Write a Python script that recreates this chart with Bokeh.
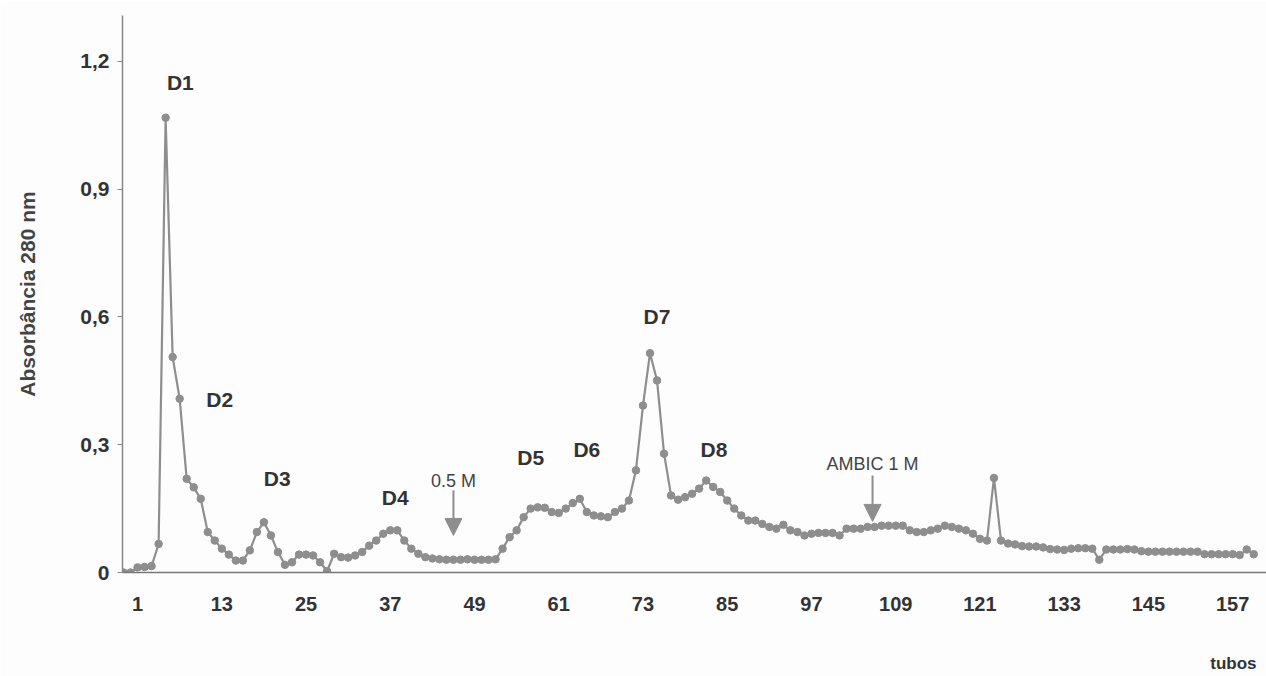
from bokeh.plotting import figure
from bokeh.models import (Range1d, FixedTicker, Title, Arrow, NormalHead, ColumnDataSource)
from bokeh.core.properties import value
from bokeh.embed import file_html
from bokeh.resources import INLINE

# ---- data ----
absorbance = [
    0.000, 0.000, 0.012, 0.013, 0.015, 0.067, 1.068, 0.506, 0.408, 0.220,
    0.200, 0.173, 0.095, 0.075, 0.056, 0.042, 0.028, 0.028, 0.052, 0.095,
    0.118, 0.087, 0.048, 0.018, 0.024, 0.042, 0.042, 0.040, 0.024, 0.003,
    0.044, 0.036, 0.035, 0.040, 0.048, 0.063, 0.075, 0.091, 0.099, 0.099,
    0.075, 0.056, 0.044, 0.036, 0.033, 0.031, 0.030, 0.030, 0.030, 0.031,
    0.030, 0.030, 0.030, 0.031, 0.056, 0.083, 0.099, 0.130, 0.150, 0.153,
    0.152, 0.142, 0.140, 0.150, 0.163, 0.173, 0.142, 0.134, 0.132, 0.130,
    0.142, 0.150, 0.169, 0.240, 0.392, 0.515, 0.451, 0.279, 0.181, 0.171,
    0.177, 0.185, 0.197, 0.216, 0.201, 0.189, 0.169, 0.150, 0.134, 0.122,
    0.122, 0.114, 0.107, 0.103, 0.112, 0.099, 0.095, 0.087, 0.091, 0.093,
    0.093, 0.093, 0.087, 0.103, 0.103, 0.103, 0.107, 0.107, 0.110, 0.110,
    0.110, 0.110, 0.099, 0.095, 0.095, 0.099, 0.103, 0.110, 0.107, 0.103,
    0.099, 0.091, 0.079, 0.075, 0.222, 0.075, 0.068, 0.066, 0.062, 0.061,
    0.061, 0.059, 0.055, 0.054, 0.053, 0.056, 0.057, 0.057, 0.056, 0.030,
    0.054, 0.054, 0.054, 0.055, 0.054, 0.050, 0.049, 0.049, 0.049, 0.049,
    0.049, 0.049, 0.049, 0.049, 0.043, 0.043, 0.043, 0.043, 0.043, 0.041,
    0.054, 0.043,
]
points = list(range(1, len(absorbance) + 1))

x_tick_labels = [1, 13, 25, 37, 49, 61, 73, 85, 97, 109, 121, 133, 145, 157]
y_ticks = [0, 0.3, 0.6, 0.9, 1.2]
y_tick_labels = ["0", "0,3", "0,6", "0,9", "1,2"]

peak_names = ["D1", "D2", "D3", "D4", "D5", "D6", "D7", "D8"]
peak_x = [9.1, 14.7, 22.9, 39.7, 59.0, 67.0, 77.0, 85.1]
peak_y = [1.151, 0.406, 0.221, 0.176, 0.270, 0.289, 0.601, 0.289]

salt_names = ["0.5 M", "AMBIC 1 M"]
salt_x = [48.0, 107.7]
salt_text_y = [0.216, 0.254]
arrow_top = [0.193, 0.228]
arrow_bottom = [0.087, 0.120]

GRAY = "#8e8e8e"
TXT = "#333333"
FONT = "Liberation Sans"
BG = "#fdfdfd"

p = figure(width=1266, height=676, output_backend="svg", toolbar_location=None,
           x_range=Range1d(0.857, 0.857 + 1144 / 7.02),
           y_range=Range1d(0, 1.308),
           min_border_left=122, min_border_right=0, min_border_top=15,
           min_border_bottom=104)
p.outline_line_color = None
p.xgrid.grid_line_color = None
p.ygrid.grid_line_color = None
p.background_fill_color = BG
p.border_fill_color = BG

src = ColumnDataSource(dict(x=points, y=absorbance))
p.line("x", "y", source=src, line_color=GRAY, line_width=2.2)
p.scatter("x", "y", source=src, size=7.5, fill_color=GRAY, line_color=GRAY)

# axes
xa = p.xaxis[0]
xa.ticker = FixedTicker(ticks=[t + 2 for t in x_tick_labels])
xa.major_label_overrides = {t + 2: str(t) for t in x_tick_labels}
xa.major_tick_out = 0
xa.major_tick_in = 0
xa.minor_tick_out = 0
xa.minor_tick_in = 0
xa.axis_line_color = "#777777"
xa.axis_line_width = 1.5
xa.major_label_standoff = 24
xa.major_label_text_font = FONT
xa.major_label_text_font_style = "bold"
xa.major_label_text_font_size = "20px"
xa.major_label_text_color = TXT
# blank spacer label so that the "tubos" title sits lower
xa.axis_label = "\u00a0"
xa.axis_label_standoff = 13
xa.axis_label_text_font = FONT
xa.axis_label_text_font_size = "17px"
xa.axis_label_text_alpha = 0

ya = p.yaxis[0]
ya.ticker = FixedTicker(ticks=y_ticks)
ya.major_label_overrides = {t: l for t, l in zip(y_ticks, y_tick_labels)}
ya.major_tick_out = 5
ya.major_tick_in = 0
ya.minor_tick_out = 0
ya.minor_tick_in = 0
ya.major_tick_line_color = "#888888"
ya.axis_line_color = "#888888"
ya.axis_line_width = 1.5
ya.major_label_standoff = 8
ya.major_label_text_font = FONT
ya.major_label_text_font_style = "bold"
ya.major_label_text_font_size = "21px"
ya.major_label_text_color = TXT
ya.axis_label = "Absorbância 280 nm"
ya.axis_label_text_font = FONT
ya.axis_label_text_font_style = "bold"
ya.axis_label_text_font_size = "21px"
ya.axis_label_text_color = "#444444"
ya.axis_label_standoff = 38

# peak labels
p.text(x=peak_x, y=peak_y, text=peak_names, text_align="center",
       text_baseline="middle", text_font=value(FONT), text_font_style="bold",
       text_font_size="21px", text_color=TXT)

# salt labels and arrows
p.text(x=salt_x, y=salt_text_y, text=salt_names, text_align="center",
       text_baseline="middle", text_font=value(FONT), text_font_size="18px",
       text_color="#444444")
for sx, top, bot in zip(salt_x, arrow_top, arrow_bottom):
    p.add_layout(Arrow(x_start=sx, y_start=top, x_end=sx, y_end=bot,
                       line_color=GRAY, line_width=2,
                       end=NormalHead(size=17, fill_color=GRAY, line_color=GRAY)))

# x axis title "tubos" at bottom right
p.add_layout(Title(text="tubos", align="right", offset=10, standoff=7,
                   text_font=FONT, text_font_style="bold",
                   text_font_size="17px", text_color=TXT), "below")

open("out.html", "w").write(file_html(p, INLINE))
